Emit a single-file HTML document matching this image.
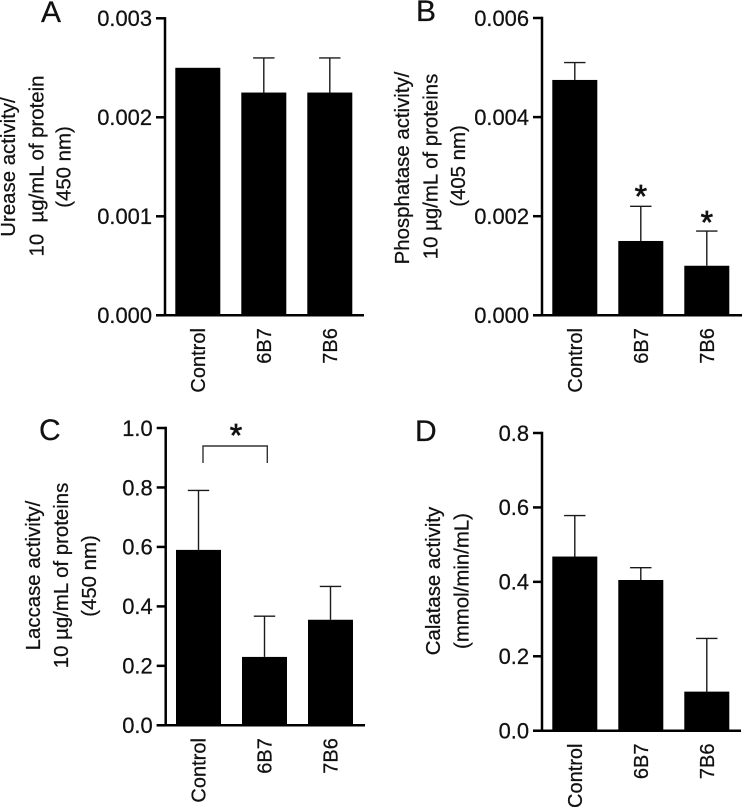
<!DOCTYPE html>
<html lang="en">
<head>
<meta charset="utf-8">
<title>Enzyme activity bar charts</title>
<style>
html,body{margin:0;padding:0;background:#fff;}
svg{display:block;}
text{font-family:"Liberation Sans",Arial,sans-serif;fill:#111;stroke:#111;stroke-width:0.25px;}
.t{font-size:20.4px;text-anchor:middle;}
.l{font-size:30px;}
</style>
</head>
<body>
<svg id="fig" xmlns="http://www.w3.org/2000/svg" width="742" height="807" viewBox="0 0 742 807">
  <rect x="0" y="0" width="742" height="807" fill="#fff"/>
  <text class="l" x="41" y="22">A</text>
  <text class="l" x="416" y="21">B</text>
  <text class="l" x="39" y="440">C</text>
  <text class="l" x="415" y="441">D</text>

  <g>
    <text class="t" transform="translate(15,167) rotate(-90)">Urease activity/</text>
    <text class="t" transform="translate(43.5,166) rotate(-90)" xml:space="preserve">10  µg/mL of protein</text>
    <text class="t" transform="translate(70.5,167) rotate(-90)">(450 nm)</text>
  </g>
  <g>
    <text class="t" transform="translate(409,168) rotate(-90)">Phosphatase activity/</text>
    <text class="t" transform="translate(437.5,166.5) rotate(-90)">10 µg/mL of proteins</text>
    <text class="t" transform="translate(465,166) rotate(-90)">(405 nm)</text>
  </g>
  <g>
    <text class="t" transform="translate(40,575.5) rotate(-90)">Laccase activity/</text>
    <text class="t" transform="translate(68,575.5) rotate(-90)">10 µg/mL of proteins</text>
    <text class="t" transform="translate(96,576) rotate(-90)">(450 nm)</text>
  </g>
  <g>
    <text class="t" transform="translate(440,581) rotate(-90)">Calatase activity</text>
    <text class="t" transform="translate(468.5,581) rotate(-90)">(mmol/min/mL)</text>
  </g>

  <path d="M203 463 V446 H267.3 V463" fill="none" stroke="#333" stroke-width="1.4"/>
</svg>
<script>
var categories = ["Control", "6B7", "7B6"];

var ureaseValues = [0.0025, 0.00225, 0.00225];
var ureaseErrorTops = [0.0025, 0.0026, 0.0026];
var ureaseTicks = ["0.000", "0.001", "0.002", "0.003"];

var phosphataseValues = [0.00475, 0.0015, 0.001];
var phosphataseErrorTops = [0.0051, 0.0022, 0.0017];
var phosphataseTicks = ["0.000", "0.002", "0.004", "0.006"];

var laccaseValues = [0.59, 0.23, 0.355];
var laccaseErrorTops = [0.79, 0.367, 0.467];
var laccaseTicks = ["0.0", "0.2", "0.4", "0.6", "0.8", "1.0"];

var catalaseValues = [0.468, 0.405, 0.105];
var catalaseErrorTops = [0.578, 0.438, 0.248];
var catalaseTicks = ["0.0", "0.2", "0.4", "0.6", "0.8"];

var svg = document.getElementById('fig');
var NS = 'http://www.w3.org/2000/svg';

function make(tag, attrs) {
  var el = document.createElementNS(NS, tag);
  for (var k in attrs) { el.setAttribute(k, attrs[k]); }
  svg.appendChild(el);
  return el;
}

function drawPanel(id, values, errorTops, ticks, frame) {
  var maxTick = parseFloat(ticks[ticks.length - 1]);
  function yScale(v) { return frame.bottom - (v / maxTick) * (frame.bottom - frame.top); }
  function xScale(i) { return frame.axisX + 10.3 + 66 * i; }
  var barW = 45;

  values.forEach(function (v, i) {
    var x = xScale(i);
    var cx = x + barW / 2;
    if (errorTops[i] > v) {
      var stem = make('line', {x1: cx, x2: cx, y1: yScale(v), y2: yScale(errorTops[i]), stroke: '#1a1a1a', 'stroke-width': 1.4});
      
      
      var cap = make('line', {x1: cx - 10.7, x2: cx + 10.7, y1: yScale(errorTops[i]), y2: yScale(errorTops[i]), stroke: '#1a1a1a', 'stroke-width': 1.4});
      
      
    }
    var bar = make('rect', {x: x, y: yScale(v), width: barW, height: frame.bottom - yScale(v), fill: '#000'});
    
    

    var lx = cx + 7;
    var ly = frame.bottom + 12.8;
    var lab = make('text', {x: 0, y: 0, transform: 'translate(' + lx + ',' + ly + ') rotate(-90)', 'text-anchor': 'end', 'font-size': 20});
    lab.textContent = categories[i];
    
    
  });

  var yAxis = make('line', {x1: frame.axisX, x2: frame.axisX, y1: yScale(maxTick) - 1.2, y2: frame.bottom + 1.2, stroke: '#000', 'stroke-width': 2.5});
  
  
  var xAxis = make('line', {x1: frame.axisX - 9, x2: frame.xEnd, y1: frame.bottom, y2: frame.bottom, stroke: '#000', 'stroke-width': 2.5});
  
  

  ticks.forEach(function (t) {
    var y = yScale(parseFloat(t));
    var tick = make('line', {x1: frame.axisX - 9, x2: frame.axisX, y1: y, y2: y, stroke: '#000', 'stroke-width': 2.5});
    
    
    var label = make('text', {x: frame.axisX - 13, y: y + 7.8, 'text-anchor': 'end', 'font-size': 21.9});
    label.textContent = t;
    
    
  });

  return {x: xScale, y: yScale, barW: barW};
}

var a = drawPanel('panel-a', ureaseValues, ureaseErrorTops, ureaseTicks, {axisX: 165, top: 18.3, bottom: 315.3, xEnd: 364});
var b = drawPanel('panel-b', phosphataseValues, phosphataseErrorTops, phosphataseTicks, {axisX: 542, top: 18, bottom: 315.3, xEnd: 742});
var c = drawPanel('panel-c', laccaseValues, laccaseErrorTops, laccaseTicks, {axisX: 165.7, top: 428, bottom: 725.3, xEnd: 365});
var d = drawPanel('panel-d', catalaseValues, catalaseErrorTops, catalaseTicks, {axisX: 542, top: 433, bottom: 730.7, xEnd: 741});

function star(x, y, name) {
  var s = make('text', {x: x, y: y, 'text-anchor': 'middle', 'font-size': 32, 'style': 'stroke-width:0.7px'});
  s.textContent = '*';
  
  
}
star(b.x(1) + b.barW / 2, b.y(phosphataseErrorTops[1]) + 1.2, 'panel-b-significance-6b7');
star(b.x(2) + b.barW / 2, b.y(phosphataseErrorTops[2]) + 2.4, 'panel-b-significance-7b6');
star(236, 446.4, 'panel-c-significance-star');
</script>
</body>
</html>
